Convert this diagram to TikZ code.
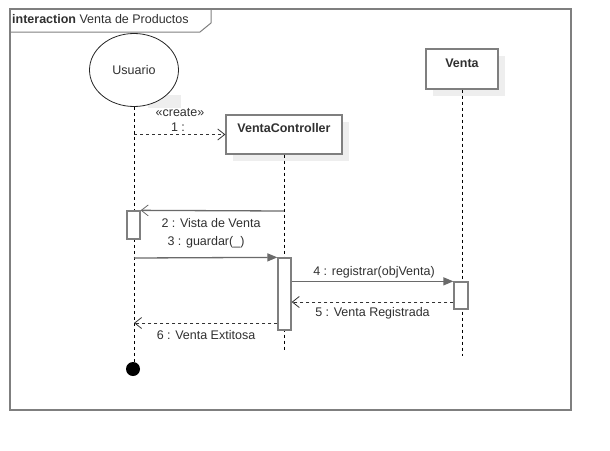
\documentclass[tikz,border=0pt]{standalone}
\usepackage{fontspec}
\setmainfont{Liberation Sans}
\usetikzlibrary{arrows.meta,shapes.geometric,calc}
\definecolor{framec}{HTML}{7F7F7F}
\definecolor{linec}{HTML}{6A6A6A}
\definecolor{txtc}{HTML}{303030}
\definecolor{shadowc}{HTML}{EEEEEE}
\begin{document}
\begin{tikzpicture}[x=1pt,y=-1pt,
  every node/.style={font=\fontsize{12.5}{14}\selectfont, text=txtc, inner sep=0pt},
  objbox/.style={draw=framec, line width=1.3pt, fill=white, rectangle},
  actbox/.style={draw=framec, line width=1.3pt, fill=white, rectangle, minimum width=13pt},
  life/.style={black, line width=0.8pt, dash pattern=on 3pt off 3pt},
  syncmsg/.style={linec, line width=1.3pt, -{Triangle[length=10pt,width=8pt]}},
  replymsg/.style={linec, line width=1.3pt, -{Straight Barb[length=7pt,width=11pt,line width=0.8pt]}},
  dashmsg/.style={black!80, line width=0.9pt, dash pattern=on 3pt off 3pt, -{Straight Barb[length=7pt,width=11pt,line width=0.8pt]}},
  lbl/.style={anchor=center}
]
\useasboundingbox (0,0) rectangle (610,450);
% frame
\draw[framec, line width=1.5pt] (10,9) rectangle (571,410);
\draw[framec, line width=1pt] (10,32) -- (200,32) -- (211,23) -- (211,9);
\node[anchor=west] (title) at (12,19) {\textbf{interaction} Venta de Productos};

% Usuario
\fill[shadowc] (148,95) rectangle (181,108);
\node[ellipse, draw=black!85, line width=0.8pt, fill=white, minimum width=89pt, minimum height=73pt] (usr) at (134,70) {Usuario};

% VentaController
\fill[shadowc] (233,122) rectangle (349,161);
\node[objbox, minimum width=116pt, minimum height=39pt] (vc) at (284,134.5) {};
\node[lbl, font=\fontsize{12.5}{14}\selectfont\bfseries] (vct) at (284,128) {VentaController};

% Venta
\fill[shadowc] (433,56) rectangle (505,96);
\node[objbox, minimum width=72pt, minimum height=40pt] (ve) at (462,69) {};
\node[lbl, font=\fontsize{12.5}{14}\selectfont\bfseries] (vet) at (462,63) {Venta};

% lifelines
\coordinate (usrEnd) at (134,364);
\coordinate (vcEnd) at (284,350);
\coordinate (veEnd) at (462,356);
\draw[life] (usr.south) -- (usrEnd);
\draw[life] (vc.south) -- (vcEnd);
\draw[life] (ve.south) -- (veEnd);
\fill[black] (133,369) circle (7pt);
\node[inner sep=0pt] (endc) at (133,369) {};

% activations
\node[actbox, minimum height=28pt] (a1) at (133.5,225) {};
\node[actbox, minimum height=72pt] (a2) at (284.5,294) {};
\node[actbox, minimum height=27pt, minimum width=14pt] (a3) at (461,295.5) {};

% messages
\coordinate (m1s) at (134,134.5);
\draw[dashmsg] (m1s) -- (vc.west);
\node[lbl] (l1a) at (180,113) {«create»};
\node[lbl] (l1b) at (178,127) {1 :};

\coordinate (m2s) at (284,211);
\draw[replymsg] (m2s) -- (a1.north east);
\node[lbl] (l2) at (211,223) {2 : Vista de Venta};

\coordinate (m3s) at (134,258);
\draw[syncmsg] (m3s) -- (a2.north west);
\node[lbl] (l3) at (206,242) {3 : guardar(\_)};

\draw[syncmsg] (a2.east |- a3.north) -- (a3.north west);
\node[lbl] (l4) at (374,272) {4 : registrar(objVenta)};

\coordinate (m5y) at (0,302);
\draw[dashmsg] (a3.west |- m5y) -- (a2.east |- m5y);
\node[lbl] (l5) at (372.5,313.5) {5 : Venta Registrada};

\coordinate (m6y) at (0,323);
\draw[dashmsg] (a2.west |- m6y) -- (usrEnd |- m6y);
\node[lbl] (l6) at (206,335) {6 : Venta Extitosa};
\end{tikzpicture}
\end{document}
